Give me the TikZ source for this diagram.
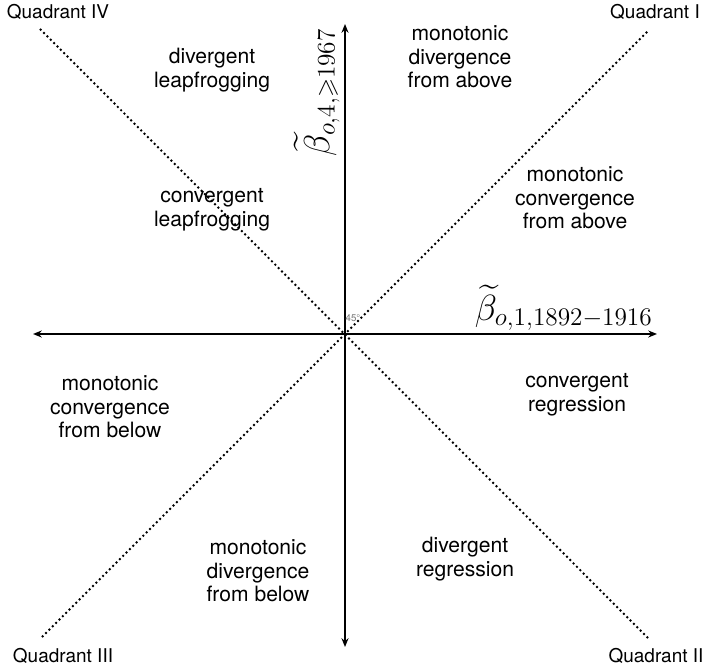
\documentclass[tikz,border=0pt]{standalone}
\usepackage{amssymb}
\usepackage{fontspec}
\setsansfont{TeX Gyre Heros}
\usetikzlibrary{arrows.meta,positioning}
\tikzset{
  region/.style={font=\sffamily\fontsize{12}{13.4}\selectfont, align=center},
  quadlabel/.style={font=\sffamily\fontsize{10.8}{12}\selectfont},
  axislabel/.style={font=\fontsize{20}{24}\selectfont, inner sep=0pt},
  axisline/.style={line width=1.1pt, -{Stealth[length=5pt,width=4pt]}},
  diagline/.style={line width=1.1pt, dash pattern=on 1.1pt off 1.6pt},
}

\begin{document}
\begin{tikzpicture}[x=0.02cm,y=-0.02cm]
    \useasboundingbox (0,0) rectangle (703,668);
    \coordinate (origin) at (345,334);
    \coordinate (xleft) at (33,334);
    \coordinate (xright) at (657,334);
    \coordinate (ytop) at (345,24);
    \coordinate (ybottom) at (345,647);

    \node[quadlabel] (q4) at (58,12) {Quadrant IV};
    \node[quadlabel] (q1) at (655,12) {Quadrant I};
    \node[quadlabel] (q3) at (63,656) {Quadrant III};
    \node[quadlabel] (q2) at (656,656) {Quadrant II};

    \coordinate (d4) at (40,29);
    \coordinate (d1) at (648,31);
    \coordinate (d3) at (42,637);
    \coordinate (d2) at (648,638);
    \draw[diagline] (d4) -- (d2);
    \draw[diagline] (d3) -- (d1);

    \draw[axisline] (origin) -- (xright);
    \draw[axisline] (origin) -- (xleft);
    \draw[axisline] (origin) -- (ytop);
    \draw[axisline] (origin) -- (ybottom);

    \node[axislabel, anchor=south east] (betax) at (653,331)
          {$\widetilde{\beta}_{o,1,1892-1916}$};
    \node[axislabel, anchor=south east, rotate=90] (betay) at (340,28)
          {$\widetilde{\beta}_{o,4,\geqslant 1967}$};
    \node[font=\sffamily\fontsize{5.5}{6}\selectfont, text=black!55, inner sep=0pt] (angle)
          at (353,318) {45°};

    \node[region] (divleap) at (212,70) {divergent\\leapfrogging};
    \node[region] (mondivabove) at (460,57) {monotonic\\divergence\\from above};
    \node[region] (convleap) at (212,210) {convergent\\leapfrogging};
    \node[region] (monconvabove) at (575,198) {monotonic\\convergence\\from above};
    \node[region] (monconvbelow) at (110,407) {monotonic\\convergence\\from below};
    \node[region] (convreg) at (577,395) {convergent\\regression};
    \node[region] (mondivbelow) at (258,571) {monotonic\\divergence\\from below};
    \node[region] (divreg) at (465,559) {divergent\\regression};
  \end{tikzpicture}
\end{document}
